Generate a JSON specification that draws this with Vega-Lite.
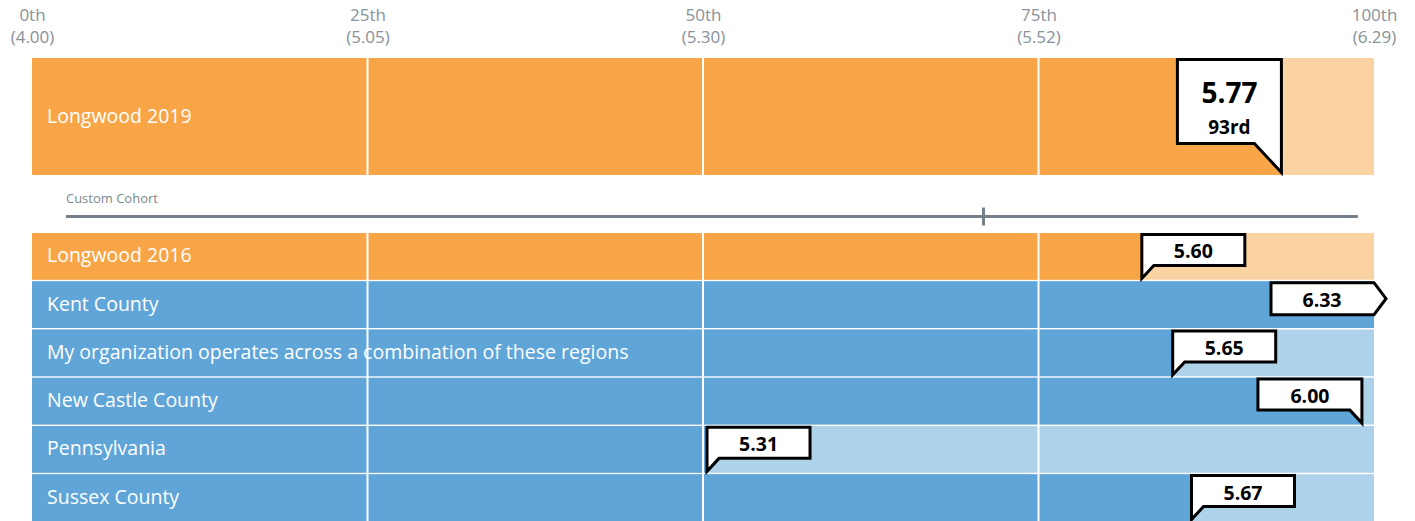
{
  "$schema": "https://vega.github.io/schema/vega-lite/v6.json",
  "padding": {"left": 10, "top": 6, "right": 0, "bottom": 0},
  "spacing": 0,
  "bounds": "flush",
  "config": {"view": {"stroke": null}, "font": "Open Sans", "concat": {"spacing": 0}},
  "datasets": {
    "headline": [
      {"label": "Longwood 2019", "cohort": "Longwood", "score": 5.77, "pct": 93.1, "rank": "93rd", "tail": "big"}
    ],
    "rows": [
      {"label": "Longwood 2016", "cohort": "Longwood", "score": 5.60, "pct": 82.7, "tail": "left"},
      {"label": "Kent County", "cohort": "Region", "score": 6.33, "pct": 100, "tail": "arrow"},
      {"label": "My organization operates across a combination of these regions", "cohort": "Region", "score": 5.65, "pct": 85.0, "tail": "left"},
      {"label": "New Castle County", "cohort": "Region", "score": 6.00, "pct": 99.1, "tail": "right"},
      {"label": "Pennsylvania", "cohort": "Region", "score": 5.31, "pct": 50.3, "tail": "left"},
      {"label": "Sussex County", "cohort": "Region", "score": 5.67, "pct": 86.4, "tail": "left"}
    ],
    "quartiles": [{"p": 25}, {"p": 50}, {"p": 75}],
    "cohortRange": [{"name": "Custom Cohort", "start": 2.53, "end": 98.8, "marker": 70.9}]
  },
  "vconcat": [
    {
      "width": 1342,
      "height": 117,
      "data": {"name": "headline"},
      "layer": [
        {
          "mark": {"type": "rect", "opacity": 0.5},
          "encoding": {
            "y": {
              "field": "label", "type": "nominal", "sort": null,
              "scale": {"paddingInner": 0, "paddingOuter": 0},
              "axis": {"orient": "left", "title": null, "domain": false, "ticks": false, "tickSize": 0, "labelAlign": "left", "labelBaseline": "middle", "labelPadding": -14.5, "labelColor": "white", "labelFontSize": 19.5, "labelLimit": 0, "zindex": 1}
            },
            "color": {"field": "cohort", "type": "nominal", "scale": {"domain": ["Longwood", "Region"], "range": ["#F7A546", "#5FA5D8"]}, "legend": null}
          }
        },
        {
          "mark": {"type": "rect", "opacity": 1},
          "encoding": {
            "x": {
              "field": "pct", "type": "quantitative",
              "scale": {"domain": [0, 100], "nice": false, "zero": true},
              "axis": {
                "orient": "top", "values": [0, 25, 50, 75, 100], "grid": false, "ticks": false, "tickSize": 0, "domain": false,
                "title": null, "labelFontSize": 17, "labelLineHeight": 22, "labelColor": "#87929b",
                "labelBaseline": "top", "labelPadding": 51, "labelFlush": false, "labelOverlap": false, "labelBound": false,
                "labelExpr": "[datum.value + 'th', '(' + (datum.value == 0 ? '4.00' : datum.value == 25 ? '5.05' : datum.value == 50 ? '5.30' : datum.value == 75 ? '5.52' : '6.29') + ')']"
              }
            },
            "y": {"field": "label", "type": "nominal", "sort": null},
            "color": {"field": "cohort", "type": "nominal", "scale": {"domain": ["Longwood", "Region"], "range": ["#F7A546", "#5FA5D8"]}, "legend": null}
          }
        },
        {
          "data": {"name": "quartiles"},
          "mark": {"type": "rule", "color": "white", "strokeWidth": 2},
          "encoding": {"x": {"field": "p", "type": "quantitative"}}
        },
        {
          "mark": {"type": "point", "size": 4, "filled": true, "fill": "white", "stroke": "black", "strokeWidth": 3, "opacity": 1, "fillOpacity": 1},
          "encoding": {
            "x": {"field": "pct", "type": "quantitative"},
            "y": {"field": "label", "type": "nominal", "sort": null},
            "shape": {"field": "tail", "type": "nominal", "legend": null, "scale": {"domain": ["big", "left", "right", "arrow"], "range": ["M0,-57L-104,-57L-104,27L-27,27L0,56Z", "M0,-22L103,-22L103,9L12,9L0,22Z", "M0,-22L-104,-22L-104,9L-12,9L0,22Z", "M-103,-22L0,-22L12,-6L0,10L-103,10Z"]}}
          }
        },
        {
          "mark": {"type": "text", "dx": -52, "dy": -22, "fontSize": 28, "fontWeight": "bold", "color": "black"},
          "encoding": {"x": {"field": "pct", "type": "quantitative"}, "y": {"field": "label", "type": "nominal", "sort": null}, "text": {"field": "score", "type": "quantitative", "format": ".2f"}}
        },
        {
          "mark": {"type": "text", "dx": -52, "dy": 11, "fontSize": 19, "fontWeight": "bold", "color": "black"},
          "encoding": {"x": {"field": "pct", "type": "quantitative"}, "y": {"field": "label", "type": "nominal", "sort": null}, "text": {"field": "rank"}}
        }
      ]
    },
    {
      "width": 1342,
      "height": 58,
      "data": {"name": "cohortRange"},
      "layer": [
        {
          "mark": {"type": "rule", "color": "#76808A", "strokeWidth": 3, "yOffset": 12.5},
          "encoding": {"x": {"field": "start", "type": "quantitative", "scale": {"domain": [0, 100], "nice": false, "zero": false}, "axis": null}, "x2": {"field": "end"}}
        },
        {
          "mark": {"type": "tick", "color": "#76808A", "thickness": 3, "size": 18, "yOffset": 12.5, "opacity": 1},
          "encoding": {"x": {"field": "marker", "type": "quantitative"}}
        },
        {
          "mark": {"type": "text", "align": "left", "baseline": "middle", "dy": -5, "fontSize": 13, "color": "#7d8790"},
          "encoding": {"x": {"field": "start", "type": "quantitative"}, "text": {"field": "name"}}
        }
      ]
    },
    {
      "width": 1342,
      "height": 288,
      "data": {"name": "rows"},
      "layer": [
        {
          "mark": {"type": "rect", "opacity": 0.5},
          "encoding": {
            "y": {
              "field": "label", "type": "nominal", "sort": null,
              "scale": {"paddingInner": 0.03, "paddingOuter": 0},
              "axis": {"orient": "left", "title": null, "domain": false, "ticks": false, "tickSize": 0, "labelAlign": "left", "labelBaseline": "middle", "labelPadding": -14.5, "labelColor": "white", "labelFontSize": 19.5, "labelLimit": 0, "zindex": 1}
            },
            "color": {"field": "cohort", "type": "nominal", "scale": {"domain": ["Longwood", "Region"], "range": ["#F7A546", "#5FA5D8"]}, "legend": null}
          }
        },
        {
          "mark": {"type": "rect", "opacity": 1},
          "encoding": {
            "x": {"field": "pct", "type": "quantitative", "scale": {"domain": [0, 100], "nice": false, "zero": true}, "axis": null},
            "y": {"field": "label", "type": "nominal", "sort": null},
            "color": {"field": "cohort", "type": "nominal", "scale": {"domain": ["Longwood", "Region"], "range": ["#F7A546", "#5FA5D8"]}, "legend": null}
          }
        },
        {
          "data": {"name": "quartiles"},
          "mark": {"type": "rule", "color": "white", "strokeWidth": 2},
          "encoding": {"x": {"field": "p", "type": "quantitative"}}
        },
        {
          "mark": {"type": "point", "size": 4, "filled": true, "fill": "white", "stroke": "black", "strokeWidth": 3, "opacity": 1, "fillOpacity": 1},
          "encoding": {
            "x": {"field": "pct", "type": "quantitative"},
            "y": {"field": "label", "type": "nominal", "sort": null},
            "shape": {"field": "tail", "type": "nominal", "legend": null, "scale": {"domain": ["big", "left", "right", "arrow"], "range": ["M0,-57L-104,-57L-104,27L-27,27L0,56Z", "M0,-22L103,-22L103,9L12,9L0,22Z", "M0,-22L-104,-22L-104,9L-12,9L0,22Z", "M-103,-22L0,-22L12,-6L0,10L-103,10Z"]}}
          }
        },
        {
          "transform": [{"filter": "datum.tail == 'left'"}],
          "mark": {"type": "text", "dx": 51.5, "dy": -4, "fontSize": 19.5, "fontWeight": "bold", "color": "black"},
          "encoding": {"x": {"field": "pct", "type": "quantitative"}, "y": {"field": "label", "type": "nominal", "sort": null}, "text": {"field": "score", "type": "quantitative", "format": ".2f"}}
        },
        {
          "transform": [{"filter": "datum.tail != 'left'"}],
          "mark": {"type": "text", "dx": -52, "dy": -4, "fontSize": 19.5, "fontWeight": "bold", "color": "black"},
          "encoding": {"x": {"field": "pct", "type": "quantitative"}, "y": {"field": "label", "type": "nominal", "sort": null}, "text": {"field": "score", "type": "quantitative", "format": ".2f"}}
        }
      ]
    }
  ]
}
